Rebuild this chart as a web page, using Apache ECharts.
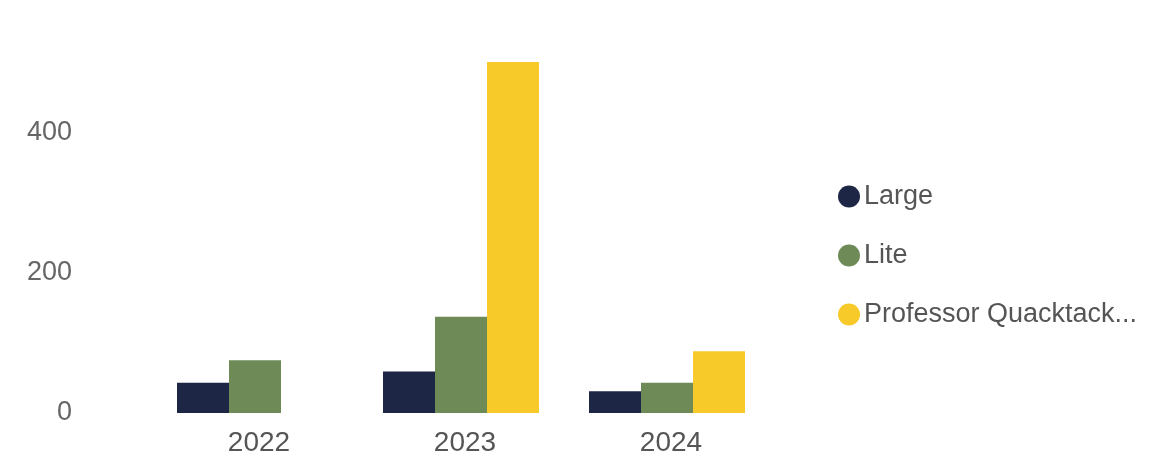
<!DOCTYPE html>
<html>
<head>
<meta charset="utf-8">
<script src="https://cdn.jsdelivr.net/npm/echarts@6/dist/echarts.min.js"></script>
<style>html,body{margin:0;padding:0;background:#fff;}#c{width:1154px;height:457px;}</style>
</head>
<body>
<div id="c"></div>
<script>
const categories = ['2022', '2023', '2024'];
const seriesNames = ['Large', 'Lite', 'Professor Quacktack...'];
const largeValues = [43, 59, 31];
const liteValues = [75, 137, 43];
const professorValues = [null, 500, 88];
const yTicks = [0, 200, 400];

const colors = ['#1e2645', '#6e8b57', '#f7ca2a'];
const chart = echarts.init(document.getElementById('c'));
const font = 'Liberation Sans, Arial, sans-serif';
chart.setOption({
  animation: false,
  color: colors,
  grid: { left: 152, right: 384, top: 62, bottom: 44 },
  legend: {
    orient: 'vertical',
    left: 833,
    top: 178,
    icon: 'circle',
    itemWidth: 22,
    itemHeight: 22,
    itemGap: 32,
    textStyle: { fontFamily: font, fontSize: 27, color: '#555555', padding: [0, 0, 0, -1] },
    data: seriesNames
  },
  xAxis: {
    type: 'category',
    data: categories,
    axisLine: { show: false },
    axisTick: { show: false },
    axisLabel: { fontFamily: font, fontSize: 28, color: '#555555', margin: 16, padding: [0, 0, 0, 8] }
  },
  yAxis: {
    type: 'value',
    min: 0,
    max: 500,
    interval: 200,
    splitLine: { show: false },
    axisLine: { show: false },
    axisTick: { show: false },
    axisLabel: {
      fontFamily: font, fontSize: 27, color: '#666666', margin: 80,
      formatter: v => yTicks.indexOf(v) >= 0 ? String(v) : ''
    }
  },
  series: [
    { name: seriesNames[0], type: 'bar', data: largeValues, barWidth: 52, barGap: 0 },
    { name: seriesNames[1], type: 'bar', data: liteValues, barWidth: 52, barGap: 0 },
    { name: seriesNames[2], type: 'bar', data: professorValues, barWidth: 52, barGap: 0 }
  ]
});
</script>
</body>
</html>
